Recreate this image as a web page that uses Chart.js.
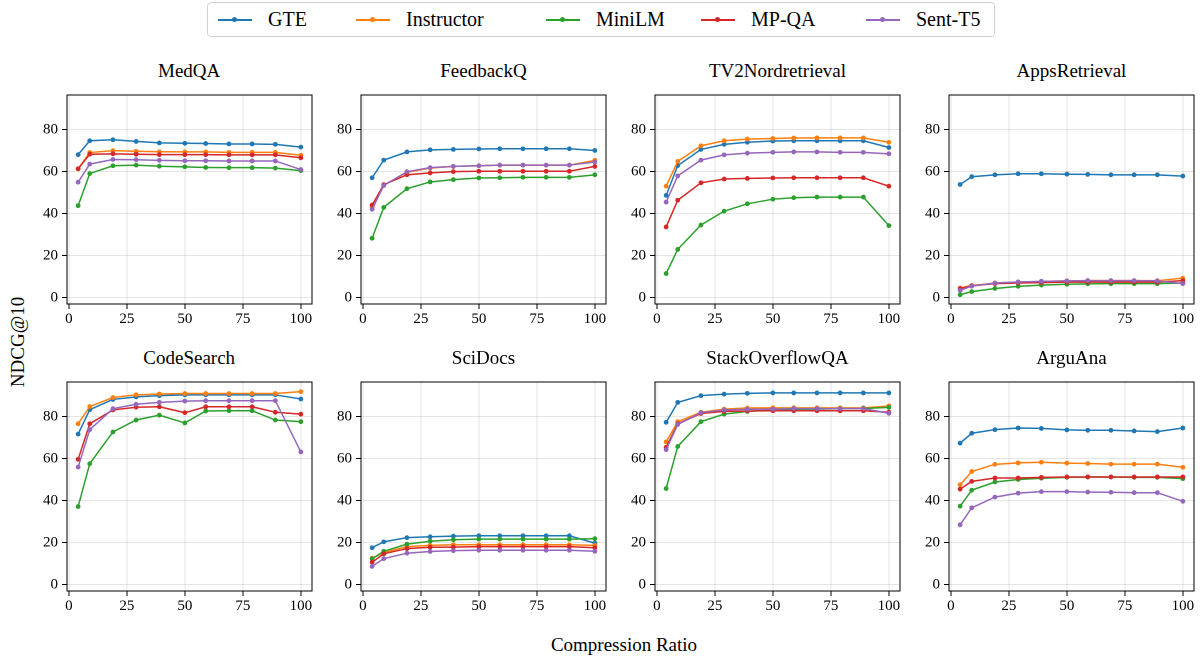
<!DOCTYPE html>
<html>
<head>
<meta charset="utf-8">
<script src="https://cdn.jsdelivr.net/npm/chart.js@4.4.1/dist/chart.umd.min.js"></script>
<style>
  html, body { margin: 0; padding: 0; background: #fff; }
  body { width: 1203px; height: 659px; position: relative; overflow: hidden; font-family: 'Liberation Serif', 'Times New Roman', serif; color: #000; }
  .panel { position: absolute; }
  .title { position: absolute; width: 245px; text-align: center; font-size: 19px; line-height: 22px; }
  .legend { position: absolute; left: 207px; top: 2px; width: 786px; height: 33px; border: 1px solid #d0d0d0; border-radius: 4px; }
  .item { position: absolute; top: 0; height: 33px; line-height: 33px; font-size: 20px; }
  .sw { position: absolute; top: 16px; width: 34px; height: 1.5px; }
  .sw i { position: absolute; left: 14px; top: -2px; width: 5px; height: 5px; border-radius: 50%; background: inherit; }
  .xlab { position: absolute; left: 0; width: 1248px; top: 634px; text-align: center; font-size: 19px; }
  .ylab { position: absolute; left: 18px; top: 342px; font-size: 19px; transform: translate(-50%, -50%) rotate(-90deg); white-space: nowrap; }
</style>
</head>
<body>
<div class="legend" id="legend"></div>
<div class="xlab">Compression Ratio</div>
<div class="ylab">NDCG@10</div>
<div id="panels"></div>
<script>
// ─────────────────────────────────────────────────────────────────────────────
// DATA
// ─────────────────────────────────────────────────────────────────────────────

const RATIOS = [4, 9, 19, 29, 39, 50, 59, 69, 79, 89, 100];
const MODELS = ['GTE', 'Instructor', 'MiniLM', 'MP-QA', 'Sent-T5'];
const COLORS = ['#1f77b4', '#ff7f0e', '#2ca02c', '#d62728', '#9467bd'];
const TASKS  = ['MedQA', 'FeedbackQ', 'TV2Nordretrieval', 'AppsRetrieval', 'CodeSearch', 'SciDocs', 'StackOverflowQA', 'ArguAna'];
const X_TICKS = [0, 25, 50, 75, 100];
const Y_TICKS = [0, 20, 40, 60, 80];

// rows follow MODELS order: GTE, Instructor, MiniLM, MP-QA, Sent-T5
const MEDQA = [
  [68.1, 74.7, 75.2, 74.4, 73.7, 73.5, 73.4, 73.2, 73.2, 73.0, 71.7],
  [61.3, 69.1, 70.0, 69.7, 69.5, 69.4, 69.4, 69.2, 69.2, 69.2, 67.8],
  [43.8, 59.1, 62.8, 63.1, 62.6, 62.3, 62.0, 61.9, 61.9, 61.7, 60.5],
  [61.4, 68.3, 68.5, 68.3, 68.1, 68.1, 68.1, 68.0, 68.0, 68.0, 66.6],
  [55.0, 63.6, 65.8, 65.7, 65.4, 65.2, 65.2, 65.1, 65.1, 65.1, 61.0],
];
const FEEDBACKQ = [
  [57.1, 65.5, 69.4, 70.4, 70.6, 70.8, 70.9, 70.9, 70.9, 70.9, 70.1],
  [42.9, 53.6, 59.7, 61.7, 62.5, 62.8, 63.1, 63.1, 63.1, 63.1, 65.4],
  [28.3, 43.0, 51.9, 55.1, 56.2, 57.0, 57.1, 57.3, 57.3, 57.3, 58.5],
  [44.1, 53.8, 58.5, 59.4, 60.0, 60.2, 60.2, 60.2, 60.2, 60.2, 62.5],
  [42.1, 53.4, 60.0, 61.9, 62.5, 62.8, 63.1, 63.1, 63.1, 63.1, 64.6],
];
const TV2NORD = [
  [48.7, 62.9, 70.6, 73.0, 74.0, 74.6, 74.7, 74.7, 74.7, 74.7, 71.5],
  [53.1, 64.9, 72.3, 74.7, 75.5, 75.8, 76.0, 76.1, 76.1, 76.1, 74.0],
  [11.5, 23.0, 34.6, 41.2, 44.7, 46.9, 47.6, 47.9, 47.9, 47.9, 34.3],
  [33.7, 46.4, 54.7, 56.5, 56.8, 57.0, 57.1, 57.1, 57.1, 57.1, 53.1],
  [45.5, 58.0, 65.5, 68.0, 68.8, 69.2, 69.4, 69.4, 69.2, 69.2, 68.5],
];
const APPSRET = [
  [53.9, 57.6, 58.5, 59.0, 59.0, 58.8, 58.7, 58.5, 58.5, 58.5, 57.9],
  [4.6, 5.8, 6.9, 7.4, 7.7, 8.0, 8.1, 8.1, 8.1, 8.1, 9.3],
  [1.4, 2.9, 4.4, 5.4, 6.0, 6.4, 6.6, 6.7, 6.7, 6.7, 7.0],
  [4.3, 5.7, 6.7, 7.0, 7.2, 7.4, 7.4, 7.4, 7.4, 7.4, 8.1],
  [3.5, 5.5, 7.0, 7.5, 7.8, 8.0, 8.1, 8.1, 8.1, 8.0, 6.7],
];
const CODESEARCH = [
  [71.7, 83.3, 88.2, 89.4, 90.0, 90.4, 90.4, 90.4, 90.4, 90.4, 88.4],
  [76.6, 84.8, 89.1, 90.4, 90.8, 91.0, 91.0, 91.0, 91.0, 91.0, 91.9],
  [37.2, 57.6, 72.7, 78.4, 80.7, 77.0, 82.7, 82.8, 82.8, 78.4, 77.6],
  [59.7, 76.6, 83.2, 84.5, 84.7, 81.9, 84.7, 84.7, 84.7, 82.1, 81.2],
  [56.0, 73.8, 83.8, 85.9, 86.8, 87.4, 87.6, 87.6, 87.6, 87.6, 63.2],
];
const SCIDOCS = [
  [17.6, 20.4, 22.4, 22.8, 23.1, 23.3, 23.3, 23.3, 23.3, 23.3, 19.8],
  [12.6, 15.3, 18.1, 18.7, 19.0, 19.0, 19.0, 19.0, 19.0, 19.0, 18.7],
  [12.3, 15.9, 19.3, 20.7, 21.4, 21.7, 21.7, 21.7, 21.7, 21.7, 21.9],
  [10.7, 14.7, 17.2, 17.8, 17.9, 18.1, 18.1, 18.1, 18.1, 18.1, 17.6],
  [8.7, 12.4, 15.0, 15.8, 16.2, 16.4, 16.4, 16.4, 16.4, 16.4, 15.9],
];
const STACKQA = [
  [77.3, 86.8, 90.0, 90.7, 91.1, 91.3, 91.3, 91.3, 91.3, 91.3, 91.3],
  [68.0, 77.6, 82.1, 83.6, 84.1, 84.2, 84.2, 84.2, 84.2, 84.2, 85.1],
  [45.8, 65.8, 77.6, 81.2, 82.5, 83.2, 83.5, 83.6, 83.8, 83.9, 84.4],
  [65.4, 76.6, 81.5, 82.5, 82.7, 82.8, 82.8, 82.8, 82.8, 82.8, 82.1],
  [64.3, 76.3, 81.9, 83.2, 83.5, 83.6, 83.8, 83.8, 83.8, 83.8, 81.6],
];
const ARGUANA = [
  [67.4, 72.1, 73.8, 74.6, 74.4, 73.7, 73.5, 73.5, 73.2, 72.9, 74.6],
  [47.6, 53.9, 57.3, 58.0, 58.3, 57.9, 57.7, 57.4, 57.4, 57.4, 55.9],
  [37.4, 45.0, 48.9, 50.1, 50.7, 51.1, 51.3, 51.3, 51.1, 51.1, 50.5],
  [45.5, 49.2, 50.8, 50.8, 51.1, 51.3, 51.3, 51.3, 51.3, 51.3, 51.3],
  [28.5, 36.6, 41.7, 43.6, 44.3, 44.3, 44.1, 44.0, 43.8, 43.8, 39.7],
];

const TASK_DATA = [MEDQA, FEEDBACKQ, TV2NORD, APPSRET, CODESEARCH, SCIDOCS, STACKQA, ARGUANA];

// ─────────────────────────────────────────────────────────────────────────────
// LAYOUT
// ─────────────────────────────────────────────────────────────────────────────

const PLOT_W = 245, PLOT_H = 217;
const COL_LEFT = [66.7, 361, 655, 949];
const ROW_TOP = [87, 373.5];
const PAD_L = 50, PAD_T = 5, PAD_R = 15, PAD_B = 30;
const FONT = "'Liberation Serif', 'Times New Roman', serif";

Chart.defaults.font.family = FONT;

// full box round each plot, like matplotlib spines
const framePlugin = {
  id: 'frame',
  afterDraw(chart) {
    const { ctx, chartArea: a } = chart;
    ctx.save();
    ctx.strokeStyle = '#000';
    ctx.lineWidth = 1;
    ctx.strokeRect(a.left, a.top, a.right - a.left, a.bottom - a.top);
    ctx.restore();
  }
};

function buildLegend() {
  const box = document.getElementById('legend');
  const pos = [10, 148, 338, 493, 658];
  MODELS.forEach((m, i) => {
    const el = document.createElement('div');
    el.className = 'item';
    el.style.left = pos[i] + 'px';
    el.innerHTML = `<span class="sw" style="left:0;background:${COLORS[i]}"><i></i></span><span style="margin-left:50px">${m}</span>`;
    box.appendChild(el);
  });
}

function makePanel(t) {
  const col = t % 4, row = Math.floor(t / 4);
  const px = COL_LEFT[col], py = ROW_TOP[row];
  const wrap = document.getElementById('panels');

  const title = document.createElement('div');
  title.className = 'title';
  title.style.left = px + 'px';
  title.style.top = (py - 27) + 'px';
  title.textContent = TASKS[t];
  wrap.appendChild(title);

  const canvas = document.createElement('canvas');
  const w = PLOT_W + PAD_L + PAD_R, h = PLOT_H + PAD_T + PAD_B;
  canvas.className = 'panel';
  canvas.style.left = (px - PAD_L) + 'px';
  canvas.style.top = (py - PAD_T) + 'px';
  canvas.style.width = w + 'px';
  canvas.style.height = h + 'px';
  canvas.width = w; canvas.height = h;
  wrap.appendChild(canvas);

  const series = TASK_DATA[t];
  new Chart(canvas.getContext('2d'), {
    type: 'line',
    data: {
      datasets: MODELS.map((m, i) => ({
        label: m,
        data: RATIOS.map((x, k) => ({ x, y: series[i][k] })),
        borderColor: COLORS[i],
        backgroundColor: COLORS[i],
        borderWidth: 1.5,
        pointRadius: 2.4,
        pointBorderWidth: 0,
        order: MODELS.length - i,
        clip: false,
      })),
    },
    options: {
      responsive: false,
      animation: false,
      devicePixelRatio: 2,
      layout: { padding: { left: 0, top: PAD_T, right: PAD_R, bottom: 0 } },
      plugins: { legend: { display: false }, tooltip: { enabled: false } },
      scales: {
        x: {
          type: 'linear', min: -0.8, max: 104.8,
          afterFit: s => { s.height = PAD_B; },
          afterBuildTicks: s => { s.ticks = X_TICKS.map(v => ({ value: v })); },
          grid: { color: 'rgba(0,0,0,0.1)', tickColor: '#000', tickLength: 5 },
          border: { color: '#000', width: 1 },
          ticks: { color: '#000', font: { family: FONT, size: 15 }, padding: 1, maxRotation: 0 },
        },
        y: {
          min: -3, max: 96.5,
          afterFit: s => { s.width = PAD_L; },
          afterBuildTicks: s => { s.ticks = Y_TICKS.map(v => ({ value: v })); },
          grid: { color: 'rgba(0,0,0,0.1)', tickColor: '#000', tickLength: 5 },
          border: { color: '#000', width: 1 },
          ticks: { color: '#000', font: { family: FONT, size: 15 }, padding: 4 },
        },
      },
    },
    plugins: [framePlugin],
  });
}

buildLegend();
TASKS.forEach((_, t) => makePanel(t));
</script>
</body>
</html>
